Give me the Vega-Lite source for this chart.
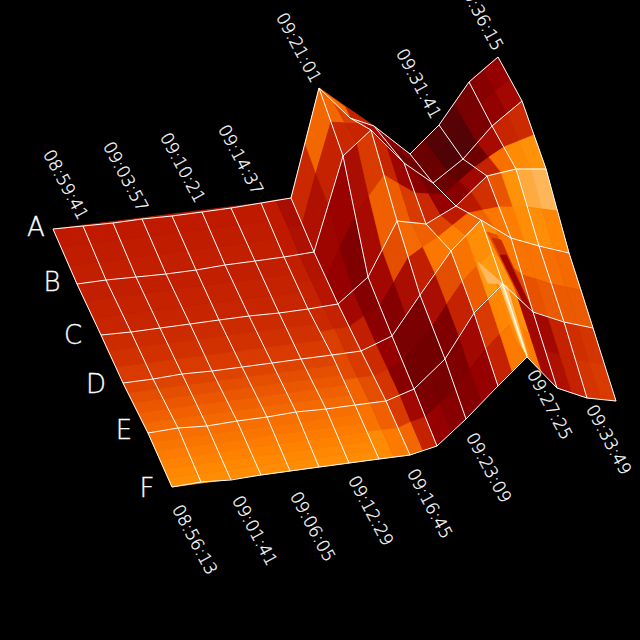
{"$schema":"https://vega.github.io/schema/vega-lite/v6.json","width":640,"height":640,"padding":0,"autosize":{"type":"none"},"background":"black","view":{"stroke":null},
"datasets":{
"cells":[
{"v":0.42,"x":[319,374,350],"y":[88,126,118]},{"v":0.66,"x":[319,345,350],"y":[88,107,118]},
{"v":0.40,"x":[53,261,269,61],"y":[229,203,221,247]},{"v":0.405,"x":[61,269,276,69],"y":[247,221,239,266]},{"v":0.41,"x":[69,276,284,77],"y":[266,239,257,284]},
{"v":0.41,"x":[77,284,292,85],"y":[284,257,274,301]},{"v":0.42,"x":[85,292,300,93],"y":[301,274,292,318]},{"v":0.43,"x":[93,300,308,101],"y":[318,292,309,335]},
{"v":0.45,"x":[101,308,316,108],"y":[335,309,324,351]},{"v":0.47,"x":[108,316,324,116],"y":[351,324,340,367]},{"v":0.50,"x":[116,324,332,123],"y":[367,340,355,383]},
{"v":0.525,"x":[123,332,337,128],"y":[383,355,365,393]},{"v":0.55,"x":[128,337,341,133],"y":[393,365,375,403]},{"v":0.575,"x":[133,341,346,138],"y":[403,375,385,413]},{"v":0.60,"x":[138,346,350,143],"y":[413,385,395,423]},{"v":0.625,"x":[143,350,355,148],"y":[423,395,405,433]},
{"v":0.645,"x":[148,355,359,152],"y":[433,405,414,442]},{"v":0.665,"x":[152,359,363,156],"y":[442,414,423,451]},{"v":0.685,"x":[156,363,367,160],"y":[451,423,432,460]},{"v":0.705,"x":[160,367,371,164],"y":[460,432,441,469]},{"v":0.725,"x":[164,371,375,168],"y":[469,441,450,478]},{"v":0.745,"x":[168,375,379,172],"y":[478,450,459,487]},
{"v":0.27,"x":[469,483,495,480],"y":[82,69,91,104]},{"v":0.30,"x":[483,498,510,495],"y":[69,57,79,91]},{"v":0.29,"x":[480,495,507,492],"y":[104,91,113,126]},{"v":0.33,"x":[495,510,522,507],"y":[91,79,101,113]},
{"v":0.15,"x":[439,454,465,451],"y":[125,103,122,142]},{"v":0.23,"x":[454,469,480,465],"y":[103,82,104,122]},{"v":0.14,"x":[451,465,477,463],"y":[142,122,142,159]},{"v":0.24,"x":[465,480,492,477],"y":[122,104,126,142]},
{"v":0.20,"x":[410,424,436,421],"y":[154,139,155,168]},{"v":0.14,"x":[424,439,451,436],"y":[139,125,142,155]},{"v":0.20,"x":[421,436,448,433],"y":[168,155,171,183]},{"v":0.13,"x":[436,451,463,448],"y":[155,142,159,171]},
{"v":0.28,"x":[374,392,405,389],"y":[126,140,156,144]},{"v":0.25,"x":[392,410,421,405],"y":[140,154,168,156]},{"v":0.21,"x":[389,405,418,404],"y":[144,156,173,163]},{"v":0.21,"x":[405,421,433,418],"y":[156,168,183,173]},
{"v":0.43,"x":[350,362,374,360],"y":[118,122,134,124]},{"v":0.34,"x":[362,374,389,374],"y":[122,126,144,134]},{"v":0.37,"x":[360,374,387,371],"y":[124,134,146,130]},{"v":0.27,"x":[374,389,404,387],"y":[134,144,163,146]},
{"v":0.62,"x":[319,334,345,331],"y":[88,103,123,122]},{"v":0.52,"x":[334,350,360,345],"y":[103,118,124,123]},{"v":0.44,"x":[331,345,357,343],"y":[122,123,143,156]},{"v":0.43,"x":[345,360,371,357],"y":[123,124,130,143]},
{"v":0.44,"x":[291,305,316,302],"y":[198,143,173,225]},{"v":0.62,"x":[305,319,331,316],"y":[143,88,122,173]},{"v":0.36,"x":[302,316,328,314],"y":[225,173,204,252]},{"v":0.42,"x":[316,331,343,328],"y":[173,122,156,204]},
{"v":0.40,"x":[261,276,288,273],"y":[203,200,227,230]},{"v":0.35,"x":[276,291,302,288],"y":[200,198,225,227]},{"v":0.40,"x":[273,288,299,284],"y":[230,227,254,257]},{"v":0.36,"x":[288,302,314,299],"y":[227,225,252,254]},
{"v":0.43,"x":[492,507,519,504],"y":[126,113,141,147]},{"v":0.45,"x":[507,522,534,519],"y":[113,101,135,141]},{"v":0.74,"x":[504,519,531,516],"y":[147,141,169,169]},{"v":0.77,"x":[519,534,546,531],"y":[141,135,169,169]},
{"v":0.21,"x":[463,477,489,475],"y":[159,142,157,167]},{"v":0.34,"x":[477,492,504,489],"y":[142,126,147,157]},{"v":0.42,"x":[475,489,501,487],"y":[167,157,172,176]},{"v":0.65,"x":[489,504,516,501],"y":[157,147,169,172]},
{"v":0.20,"x":[433,448,459,444],"y":[183,171,181,194]},{"v":0.18,"x":[448,463,475,459],"y":[171,159,167,181]},{"v":0.27,"x":[444,459,471,456],"y":[194,181,191,206]},{"v":0.33,"x":[459,475,487,471],"y":[181,167,176,191]},
{"v":0.28,"x":[404,418,429,415],"y":[163,173,194,193]},{"v":0.23,"x":[418,433,444,429],"y":[173,183,194,194]},{"v":0.44,"x":[415,429,441,426],"y":[193,194,215,224]},{"v":0.30,"x":[429,444,456,441],"y":[194,194,206,215]},
{"v":0.43,"x":[371,387,399,384],"y":[130,146,184,175]},{"v":0.32,"x":[387,404,415,399],"y":[146,163,193,184]},{"v":0.59,"x":[384,399,411,397],"y":[175,184,222,221]},{"v":0.50,"x":[399,415,426,411],"y":[184,193,224,222]},
{"v":0.35,"x":[343,357,369,355],"y":[156,143,196,216]},{"v":0.50,"x":[357,371,384,369],"y":[143,130,175,196]},{"v":0.34,"x":[355,369,382,368],"y":[216,196,249,277]},{"v":0.60,"x":[369,384,397,382],"y":[196,175,221,249]},
{"v":0.32,"x":[314,328,340,326],"y":[252,204,247,278]},{"v":0.31,"x":[328,343,355,340],"y":[204,156,216,247]},{"v":0.30,"x":[326,340,353,338],"y":[278,247,290,304]},{"v":0.25,"x":[340,355,368,353],"y":[247,216,277,290]},
{"v":0.41,"x":[284,299,311,296],"y":[257,254,280,283]},{"v":0.37,"x":[299,314,326,311],"y":[254,252,278,280]},{"v":0.42,"x":[296,311,323,308],"y":[283,280,306,309]},{"v":0.38,"x":[311,326,338,323],"y":[280,278,304,306]},
{"v":0.84,"x":[516,531,542,527],"y":[169,169,209,207]},{"v":0.87,"x":[531,546,557,542],"y":[169,169,211,209]},{"v":0.75,"x":[527,542,554,539],"y":[207,209,249,246]},{"v":0.72,"x":[542,557,569,554],"y":[209,211,253,249]},
{"v":0.57,"x":[487,501,513,499],"y":[176,172,207,207]},{"v":0.77,"x":[501,516,527,513],"y":[172,169,207,207]},{"v":0.69,"x":[499,513,525,511],"y":[207,207,242,238]},{"v":0.75,"x":[513,527,539,525],"y":[207,207,246,242]},
{"v":0.39,"x":[456,471,483,468],"y":[206,191,210,213]},{"v":0.47,"x":[471,487,499,483],"y":[191,176,207,210]},{"v":0.61,"x":[468,483,496,481],"y":[213,210,229,220]},{"v":0.67,"x":[483,499,511,496],"y":[210,207,238,229]},
{"v":0.52,"x":[426,441,453,438],"y":[224,215,225,237]},{"v":0.40,"x":[441,456,468,453],"y":[215,206,213,225]},{"v":0.70,"x":[438,453,466,451],"y":[237,225,235,251]},{"v":0.63,"x":[453,468,481,466],"y":[225,213,220,235]},
{"v":0.63,"x":[397,411,423,408],"y":[221,222,247,258]},{"v":0.60,"x":[411,426,438,423],"y":[222,224,237,247]},{"v":0.41,"x":[408,423,435,420],"y":[258,247,273,295]},{"v":0.67,"x":[423,438,451,435],"y":[247,237,251,273]},
{"v":0.33,"x":[368,382,394,380],"y":[277,249,282,306]},{"v":0.55,"x":[382,397,408,394],"y":[249,221,258,282]},{"v":0.26,"x":[380,394,406,392],"y":[306,282,315,336]},{"v":0.35,"x":[394,408,420,406],"y":[282,258,295,315]},
{"v":0.33,"x":[338,353,364,349],"y":[304,290,316,327]},{"v":0.26,"x":[353,368,380,364],"y":[290,277,306,316]},{"v":0.41,"x":[349,364,376,361],"y":[327,316,343,351]},{"v":0.28,"x":[364,380,392,376],"y":[316,306,336,343]},
{"v":0.44,"x":[308,323,335,320],"y":[309,306,329,332]},{"v":0.42,"x":[323,338,349,335],"y":[306,304,327,329]},{"v":0.51,"x":[320,335,346,332],"y":[332,329,353,355]},{"v":0.47,"x":[335,349,361,346],"y":[329,327,351,353]},
{"v":0.64,"x":[539,554,566,551],"y":[246,249,287,284]},{"v":0.63,"x":[554,569,581,566],"y":[249,253,290,287]},{"v":0.58,"x":[551,566,578,564],"y":[284,287,325,322]},{"v":0.58,"x":[566,581,593,578],"y":[287,290,328,325]},
{"v":0.66,"x":[511,525,536,522],"y":[238,242,279,275]},{"v":0.66,"x":[525,539,551,536],"y":[242,246,284,279]},{"v":0.56,"x":[522,536,548,533],"y":[275,279,317,312]},{"v":0.58,"x":[536,551,564,548],"y":[279,284,322,317]},
{"v":0.74,"x":[481,496,507,492],"y":[220,229,263,252]},{"v":0.67,"x":[496,511,522,507],"y":[229,238,275,263]},{"v":0.79,"x":[492,507,518,503],"y":[252,263,298,284]},{"v":0.54,"x":[507,522,533,518],"y":[263,275,312,298]},
{"v":0.66,"x":[451,466,477,462],"y":[251,235,266,282]},{"v":0.75,"x":[466,481,492,477],"y":[235,220,252,266]},{"v":0.59,"x":[462,477,488,474],"y":[282,266,298,313]},{"v":0.80,"x":[477,492,503,488],"y":[266,252,284,298]},
{"v":0.35,"x":[420,435,447,432],"y":[295,273,304,327]},{"v":0.55,"x":[435,451,462,447],"y":[273,251,282,304]},{"v":0.25,"x":[432,447,459,445],"y":[327,304,336,359]},{"v":0.42,"x":[447,462,474,459],"y":[304,282,313,336]},
{"v":0.24,"x":[392,406,417,403],"y":[336,315,344,362]},{"v":0.24,"x":[406,420,432,417],"y":[315,295,327,344]},{"v":0.22,"x":[403,417,429,414],"y":[362,344,374,389]},{"v":0.22,"x":[417,432,445,429],"y":[344,327,359,374]},
{"v":0.45,"x":[361,376,388,373],"y":[351,343,369,376]},{"v":0.30,"x":[376,392,403,388],"y":[343,336,362,369]},{"v":0.48,"x":[373,388,400,386],"y":[376,369,395,401]},{"v":0.27,"x":[388,403,414,400],"y":[369,362,389,395]},
{"v":0.54,"x":[332,346,358,344],"y":[355,353,378,380]},{"v":0.50,"x":[346,361,373,358],"y":[353,351,376,378]},{"v":0.61,"x":[344,358,370,355],"y":[380,378,403,405]},{"v":0.55,"x":[358,373,386,370],"y":[378,376,401,403]},
{"v":0.46,"x":[564,578,589,575],"y":[322,325,362,360]},{"v":0.48,"x":[578,593,604,589],"y":[325,328,364,362]},{"v":0.48,"x":[575,589,601,587],"y":[360,362,399,398]},{"v":0.50,"x":[589,604,616,601],"y":[362,364,401,399]},
{"v":0.33,"x":[533,548,560,545],"y":[312,317,355,350]},{"v":0.42,"x":[548,564,575,560],"y":[317,322,360,355]},{"v":0.36,"x":[545,560,572,557],"y":[350,355,393,388]},{"v":0.42,"x":[560,575,587,572],"y":[355,360,398,393]},
{"v":0.76,"x":[503,518,530,515],"y":[284,298,335,320]},{"v":0.33,"x":[518,533,545,530],"y":[298,312,350,335]},{"v":0.69,"x":[515,530,542,527],"y":[320,335,372,357]},{"v":0.33,"x":[530,545,557,542],"y":[335,350,388,372]},
{"v":0.50,"x":[474,488,500,486],"y":[313,298,334,349]},{"v":0.72,"x":[488,503,515,500],"y":[298,284,320,334]},{"v":0.42,"x":[486,500,512,498],"y":[349,334,371,386]},{"v":0.68,"x":[500,515,527,512],"y":[334,320,357,371]},
{"v":0.25,"x":[445,459,470,455],"y":[359,336,369,389]},{"v":0.33,"x":[459,474,486,470],"y":[336,313,349,369]},{"v":0.26,"x":[455,470,482,466],"y":[389,369,402,419]},{"v":0.30,"x":[470,486,498,482],"y":[369,349,386,402]},
{"v":0.24,"x":[414,429,440,425],"y":[389,374,403,417]},{"v":0.23,"x":[429,445,455,440],"y":[374,359,389,403]},{"v":0.30,"x":[425,440,451,437],"y":[417,403,432,446]},{"v":0.27,"x":[440,455,466,451],"y":[403,389,419,432]},
{"v":0.50,"x":[386,400,411,398],"y":[401,395,422,428]},{"v":0.33,"x":[400,414,425,411],"y":[395,389,417,422]},{"v":0.62,"x":[398,411,423,410],"y":[428,422,450,455]},{"v":0.42,"x":[411,425,437,423],"y":[422,417,446,450]},
{"v":0.66,"x":[355,370,382,367],"y":[405,403,430,432]},{"v":0.60,"x":[370,386,398,382],"y":[403,401,428,430]},{"v":0.74,"x":[367,382,394,379],"y":[432,430,457,459]},{"v":0.68,"x":[382,398,410,394],"y":[430,428,455,457]},
{"v":0.55,"x":[487,497,533,518],"y":[232,235,312,295]},{"v":0.45,"x":[492,501,533,515],"y":[238,240,312,285]},{"v":0.32,"x":[500,506,533,522],"y":[255,255,312,300]},
{"v":0.88,"x":[478,503,488],"y":[262,284,283]},
{"v":0.74,"x":[496,512,530,516],"y":[284,290,360,340]},{"v":0.90,"x":[499,507,528,521],"y":[283,286,357,345]},{"v":0.98,"x":[501,505,527,523],"y":[283,290,355,348]}
],
"grid":[
{"r":"A","x":[53,83,113,142,172,202,231,261,291,319,350,374,410,439,469,498],"y":[229,226,223,219,216,212,208,203,198,88,118,126,154,125,82,57]},
{"r":"B","x":[77,106,136,166,196,225,255,284,314,343,371,404,433,463,492,522],"y":[284,280,277,274,270,265,261,257,252,156,130,163,183,159,126,101]},
{"r":"C","x":[101,131,160,190,219,249,279,308,338,368,397,426,456,487,516,546],"y":[335,332,328,324,320,316,313,309,304,277,221,224,206,176,169,169]},
{"r":"D","x":[123,153,182,212,242,272,301,332,361,392,420,451,481,511,539,569],"y":[383,379,374,371,367,363,359,355,351,336,295,251,220,238,246,253]},
{"r":"E","x":[148,178,207,237,267,296,326,355,386,414,445,474,503,533,564,593],"y":[433,428,426,421,417,412,409,405,401,389,359,313,284,312,322,328]},
{"r":"F","x":[172,201,231,261,290,319,349,379,410,437,466,498,527,557,587,616],"y":[487,482,480,475,471,467,463,459,455,446,419,386,357,388,398,401]}
],
"times":[
{"t":"08:59:41","x":65,"y":185},{"t":"09:03:57","x":125,"y":177},{"t":"09:10:21","x":182,"y":168},{"t":"09:14:37","x":240,"y":160},{"t":"09:21:01","x":298,"y":48},{"t":"09:31:41","x":418,"y":84},{"t":"09:36:15","x":480,"y":16},
{"t":"08:56:13","x":194,"y":540},{"t":"09:01:41","x":254,"y":531},{"t":"09:06:05","x":312,"y":527},{"t":"09:12:29","x":370,"y":511},{"t":"09:16:45","x":429,"y":504},{"t":"09:23:09","x":488,"y":468},{"t":"09:27:25","x":549,"y":405},{"t":"09:33:49","x":608,"y":440}
],
"rows":[{"t":"A","x":36,"y":228},{"t":"B","x":52,"y":283},{"t":"C","x":73,"y":336},{"t":"D","x":96,"y":385},{"t":"E","x":124,"y":431},{"t":"F","x":147,"y":489}]
},
"encoding":{"x":{"field":"x","type":"quantitative","scale":{"domain":[0,640]},"axis":null},"y":{"field":"y","type":"quantitative","scale":{"domain":[0,640],"reverse":true},"axis":null}},
"layer":[
{"data":{"name":"cells"},"transform":[{"window":[{"op":"row_number","as":"id"}]},{"flatten":["x","y"]},{"window":[{"op":"row_number","as":"o"}]}],
"mark":{"type":"line","filled":true,"strokeWidth":0.8,"interpolate":"linear-closed"},
"encoding":{"detail":{"field":"id"},"order":{"field":"o"},"fill":{"field":"v","type":"quantitative","legend":null,"scale":{"domain":[0,0.2,0.3,0.4,0.5,0.6,0.7,0.8,0.9,1],"range":["#200000","#6a0000","#960000","#bf1a00","#d83a00","#f06000","#ff8000","#ff9a10","#ffc070","#ffffff"]}},"stroke":{"field":"v","type":"quantitative","legend":null,"scale":{"domain":[0,0.2,0.3,0.4,0.5,0.6,0.7,0.8,0.9,1],"range":["#200000","#6a0000","#960000","#bf1a00","#d83a00","#f06000","#ff8000","#ff9a10","#ffc070","#ffffff"]}}}},
{"data":{"name":"grid"},"transform":[{"flatten":["x","y"]},{"window":[{"op":"row_number","as":"o"}],"groupby":["r"]}],
"mark":{"type":"line","color":"white","strokeWidth":1},"encoding":{"detail":{"field":"r"},"order":{"field":"o"}}},
{"data":{"name":"grid"},"transform":[{"flatten":["x","y"]},{"window":[{"op":"row_number","as":"c"}],"groupby":["r"]},{"window":[{"op":"row_number","as":"o"}],"groupby":["c"]}],
"mark":{"type":"line","color":"white","strokeWidth":1},"encoding":{"detail":{"field":"c"},"order":{"field":"o"}}},
{"data":{"name":"times"},"mark":{"type":"text","color":"white","stroke":"white","strokeWidth":0.3,"angle":62,"font":"DejaVu Sans","fontWeight":200,"fontSize":17,"align":"center","baseline":"middle"},"encoding":{"text":{"field":"t"}}},
{"data":{"name":"rows"},"mark":{"type":"text","color":"white","stroke":"white","strokeWidth":0.3,"font":"DejaVu Sans","fontWeight":200,"fontSize":26,"align":"center","baseline":"middle"},"encoding":{"text":{"field":"t"}}}
]}
